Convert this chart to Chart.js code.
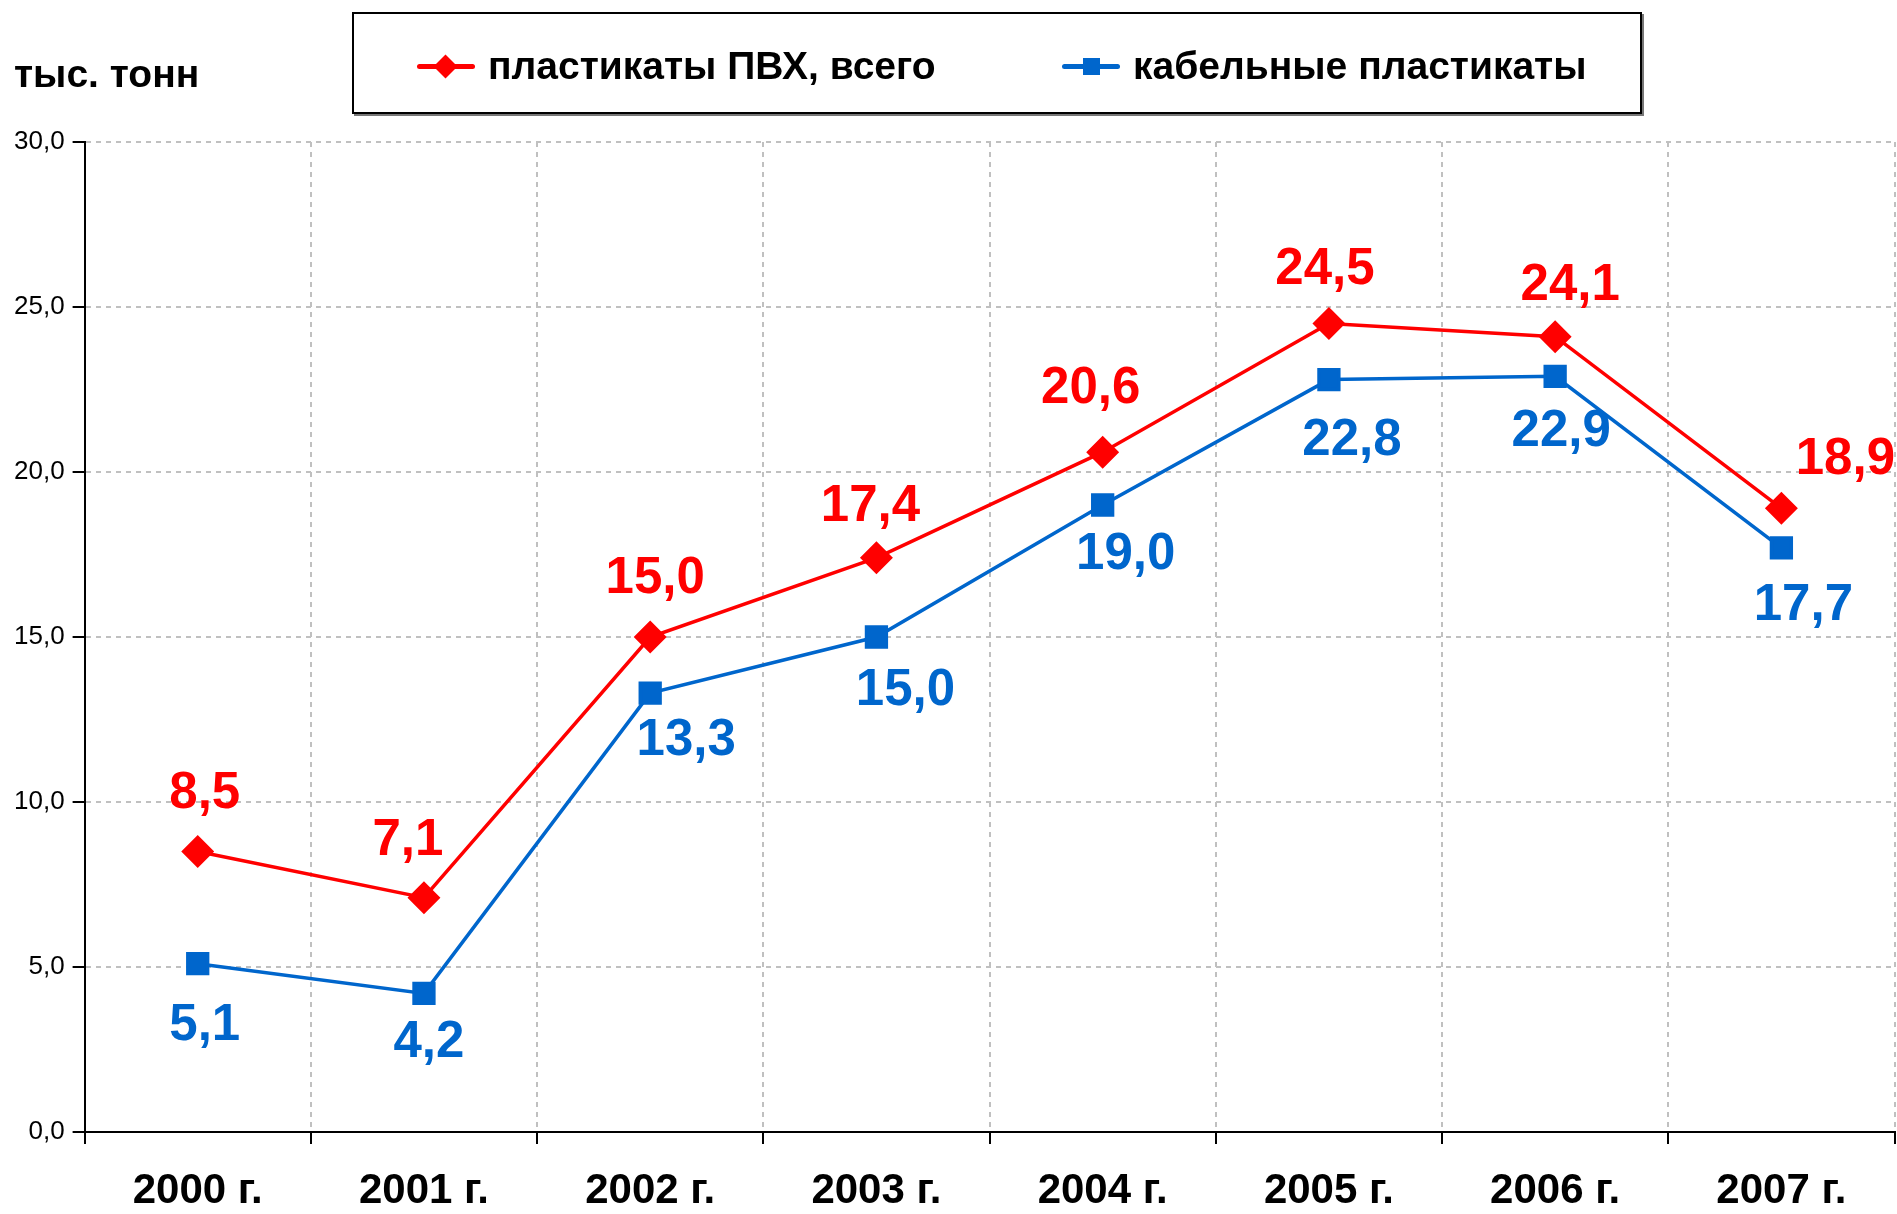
<!DOCTYPE html>
<html>
<head>
<meta charset="utf-8">
<script src="https://cdn.jsdelivr.net/npm/chart.js@4/dist/chart.umd.min.js"></script>
<style>
    body { margin: 0; background: #fff; font-family: "Liberation Sans", Arial, sans-serif; }
    #wrap { position: relative; width: 1897px; height: 1214px; overflow: hidden; }
    #chart { position: absolute; left: 0; top: 0; }
    #unit { position: absolute; left: 14px; top: 52px; font-size: 39px; font-weight: bold; color: #000; }
    #legend {
        position: absolute; left: 352px; top: 12px; width: 1286px; height: 98px;
        border: 2px solid #000; box-shadow: 2px 2px 0 #777; background: #fff;
    }
    .item { position: absolute; top: 3px; height: 98px; display: flex; align-items: center;
            font-size: 39px; font-weight: bold; color: #000; }
    .mark { position: relative; width: 58px; height: 30px; margin-right: 13px; }
    .mark .ln { position: absolute; left: 0; right: 0; top: 13px; height: 5px; border-radius: 3px; }
    .mark .pt { position: absolute; left: 50%; top: 50%; }
    .red .ln, .red .pt { background: #ff0000; }
    .blue .ln, .blue .pt { background: #0066cc; }
    .red .pt { width: 17px; height: 17px; margin: -8px 0 0 -9px; transform: rotate(45deg); }
    .blue .pt { width: 17px; height: 17px; margin: -8px 0 0 -8px; }
</style>
</head>
<body>
<div id="wrap">
    <canvas id="chart" width="1912" height="1214"></canvas>
    <div id="unit">тыс. тонн</div>
    <div id="legend">
        <div class="item" style="left:63px"><span class="mark red"><span class="ln"></span><span class="pt"></span></span>пластикаты ПВХ, всего</div>
        <div class="item" style="left:708px"><span class="mark blue"><span class="ln"></span><span class="pt"></span></span>кабельные пластикаты</div>
    </div>
</div>
<script>
const years = ["2000 г.", "2001 г.", "2002 г.", "2003 г.", "2004 г.", "2005 г.", "2006 г.", "2007 г."];
const pvcTotal = [8.5, 7.1, 15.0, 17.4, 20.6, 24.5, 24.1, 18.9];
const cablePvc = [5.1, 4.2, 13.3, 15.0, 19.0, 22.8, 22.9, 17.7];

// label nudges relative to each point (px)
const redNudge = [[7, -58], [-16, -57], [5, -58], [-6, -51], [-12, -63], [-4, -54], [15, -51], [64, -48]];
const blueNudge = [[7, 62], [5, 50], [36, 48], [29, 54], [23, 50], [23, 61], [6, 56], [22, 58]];

const fmt = v => v.toFixed(1).replace(".", ",");

const valueLabels = {
    id: "valueLabels",
    afterDatasetsDraw(chart) {
        const ctx = chart.ctx;
        ctx.save();
        ctx.font = "bold 51px 'Liberation Sans', Arial, sans-serif";
        ctx.textAlign = "center";
        ctx.textBaseline = "middle";
        chart.data.datasets.forEach((ds, i) => {
            const meta = chart.getDatasetMeta(i);
            const nudge = i === 0 ? redNudge : blueNudge;
            ctx.fillStyle = ds.borderColor;
            meta.data.forEach((pt, j) => {
                ctx.fillText(fmt(ds.data[j]), pt.x + nudge[j][0], pt.y + nudge[j][1]);
            });
        });
        ctx.restore();
    }
};

new Chart(document.getElementById("chart"), {
    type: "line",
    data: {
        labels: years,
        datasets: [
            {
                label: "пластикаты ПВХ, всего",
                data: pvcTotal,
                borderColor: "#ff0000",
                backgroundColor: "#ff0000",
                borderWidth: 3.5,
                pointStyle: "rectRot",
                pointRadius: 14,
                pointHoverRadius: 14,
                tension: 0
            },
            {
                label: "кабельные пластикаты",
                data: cablePvc,
                borderColor: "#0066cc",
                backgroundColor: "#0066cc",
                borderWidth: 3.5,
                pointStyle: "rect",
                pointRadius: 14,
                pointHoverRadius: 14,
                tension: 0
            }
        ]
    },
    options: {
        responsive: false,
        animation: false,
        layout: { padding: { top: 142, right: 2, left: 6, bottom: 0 } },
        plugins: {
            legend: { display: false },
            tooltip: { enabled: false }
        },
        scales: {
            x: {
                offset: true,
                afterFit: scale => {
                    scale.height = 82;
                    scale.paddingLeft = 0;
                    scale.paddingRight = 0;
                },
                grid: {
                    offset: true,
                    color: "#c0c0c0",
                    lineWidth: 2,
                    tickColor: "#000",
                    tickWidth: 2,
                    tickBorderDash: [],
                    tickLength: 12
                },
                border: { display: true, color: "#000", width: 2, dash: [5, 5] },
                ticks: {
                    color: "#000",
                    padding: 22,
                    font: { family: "'Liberation Sans', Arial, sans-serif", size: 42, weight: "bold" }
                }
            },
            y: {
                min: 0,
                max: 30,
                grid: {
                    color: "#c0c0c0",
                    lineWidth: 2,
                    tickColor: "#000",
                    tickWidth: 2,
                    tickBorderDash: [],
                    tickLength: 12
                },
                border: { display: true, color: "#000", width: 2, dash: [5, 5] },
                ticks: {
                    stepSize: 5,
                    color: "#000",
                    padding: 8,
                    font: { family: "'Liberation Sans', Arial, sans-serif", size: 26 },
                    callback: v => fmt(v)
                }
            }
        }
    },
    plugins: [valueLabels]
});
</script>
</body>
</html>
